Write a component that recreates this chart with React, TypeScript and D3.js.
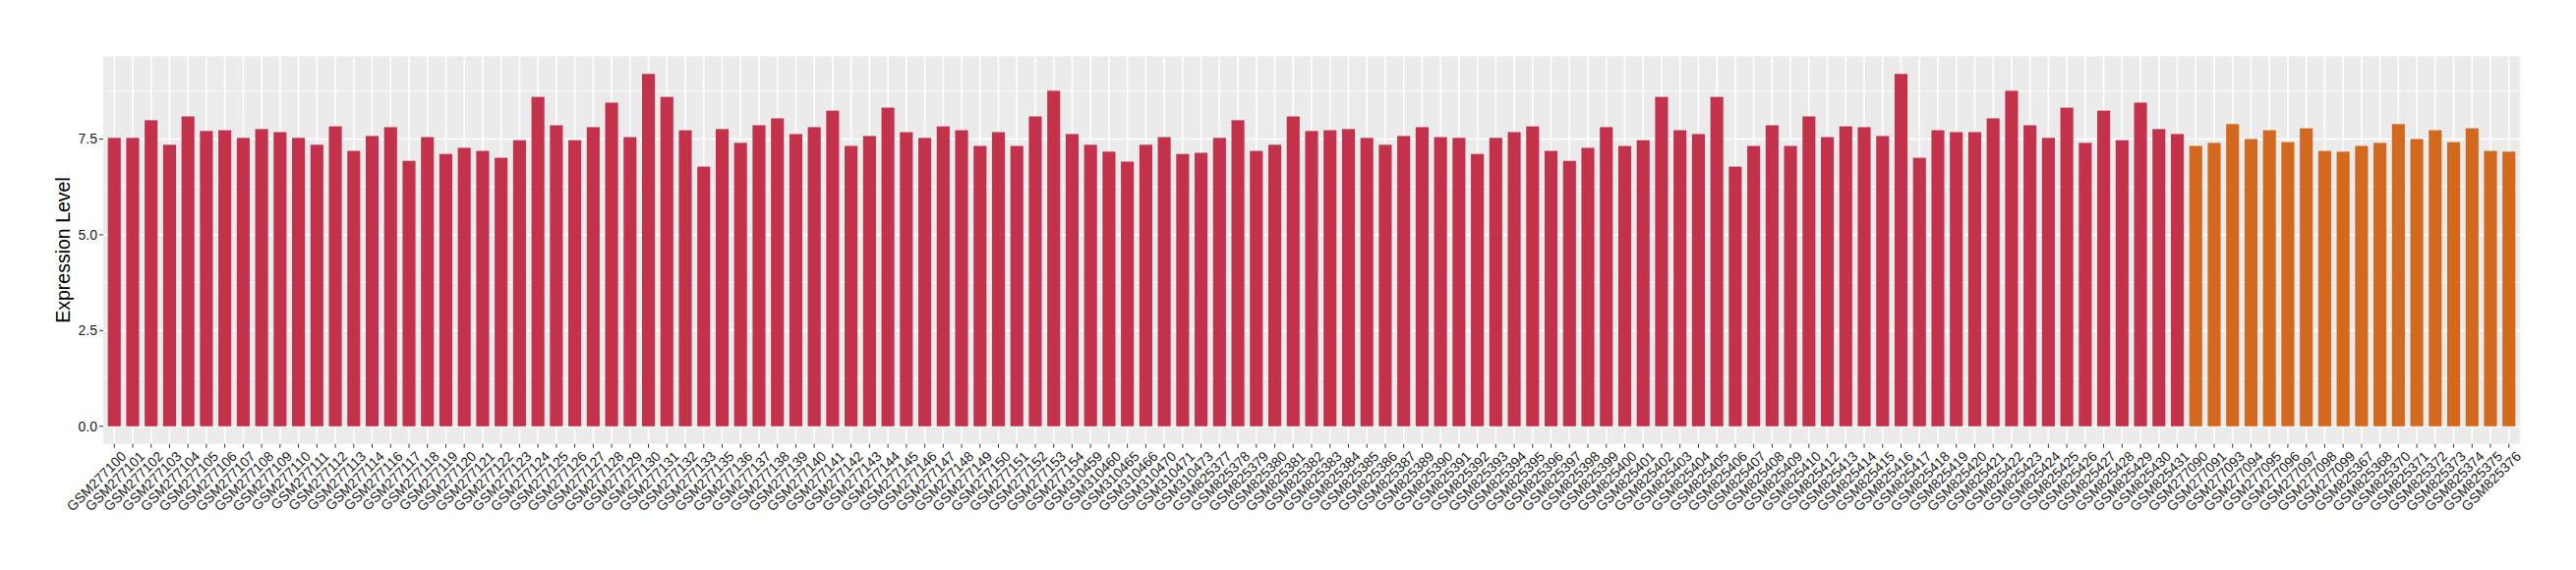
import React from "react";
import * as d3 from "d3";

// Group A (red bars)
const samplesA: string[] = [
  "GSM277100","GSM277101","GSM277102","GSM277103","GSM277104","GSM277105","GSM277106","GSM277107","GSM277108","GSM277109",
  "GSM277110","GSM277111","GSM277112","GSM277113","GSM277114","GSM277116","GSM277117","GSM277118","GSM277119","GSM277120",
  "GSM277121","GSM277122","GSM277123","GSM277124","GSM277125","GSM277126","GSM277127","GSM277128","GSM277129","GSM277130",
  "GSM277131","GSM277132","GSM277133","GSM277135","GSM277136","GSM277137","GSM277138","GSM277139","GSM277140","GSM277141",
  "GSM277142","GSM277143","GSM277144","GSM277145","GSM277146","GSM277147","GSM277148","GSM277149","GSM277150","GSM277151",
  "GSM277152","GSM277153","GSM277154","GSM310459","GSM310460","GSM310465","GSM310466","GSM310470","GSM310471","GSM310473",
  "GSM825377","GSM825378","GSM825379","GSM825380","GSM825381","GSM825382","GSM825383","GSM825384","GSM825385","GSM825386",
  "GSM825387","GSM825389","GSM825390","GSM825391","GSM825392","GSM825393","GSM825394","GSM825395","GSM825396","GSM825397",
  "GSM825398","GSM825399","GSM825400","GSM825401","GSM825402","GSM825403","GSM825404","GSM825405","GSM825406","GSM825407",
  "GSM825408","GSM825409","GSM825410","GSM825412","GSM825413","GSM825414","GSM825415","GSM825416","GSM825417","GSM825418",
  "GSM825419","GSM825420","GSM825421","GSM825422","GSM825423","GSM825424","GSM825425","GSM825426","GSM825427","GSM825428",
  "GSM825429","GSM825430","GSM825431",
];
const valuesA: number[] = [
  7.53, 7.53, 7.99, 7.35, 8.09, 7.71, 7.73, 7.53, 7.76, 7.68,
  7.53, 7.35, 7.83, 7.19, 7.58, 7.81, 6.93, 7.55, 7.11, 7.27,
  7.19, 7.01, 7.47, 8.60, 7.86, 7.47, 7.81, 8.45, 7.55, 9.20,
  8.60, 7.73, 6.78, 7.76, 7.40, 7.86, 8.04, 7.63, 7.81, 8.24,
  7.32, 7.58, 8.32, 7.68, 7.53, 7.83, 7.73, 7.32, 7.68, 7.32,
  8.09, 8.76, 7.63, 7.35, 7.17, 6.91, 7.35, 7.55, 7.11, 7.14,
  7.53, 7.99, 7.19, 7.35, 8.09, 7.71, 7.73, 7.76, 7.53, 7.35,
  7.58, 7.81, 7.55, 7.53, 7.11, 7.53, 7.68, 7.83, 7.19, 6.93,
  7.27, 7.81, 7.32, 7.47, 8.60, 7.73, 7.63, 8.60, 6.78, 7.32,
  7.86, 7.32, 8.09, 7.55, 7.83, 7.81, 7.58, 9.20, 7.01, 7.73,
  7.68, 7.68, 8.04, 8.76, 7.86, 7.53, 8.32, 7.40, 8.24, 7.47,
  8.45, 7.76, 7.63,
];

// Group B (orange bars)
const samplesB: string[] = [
  "GSM277090","GSM277091","GSM277093","GSM277094","GSM277095","GSM277096","GSM277097","GSM277098","GSM277099",
  "GSM825367","GSM825368","GSM825370","GSM825371","GSM825372","GSM825373","GSM825374","GSM825375","GSM825376",
];
const valuesB: number[] = [
  7.32, 7.40, 7.89, 7.50, 7.73, 7.42, 7.78, 7.19, 7.17,
  7.32, 7.40, 7.89, 7.50, 7.73, 7.42, 7.78, 7.19, 7.17,
];

const yTicks: number[] = [0, 2.5, 5, 7.5];
const yMinorTicks: number[] = [1.25, 3.75, 6.25, 8.75];
const yTitle = "Expression Level";

const colorA = "#C3314A";
const colorB = "#D2691E";

type Row = { name: string; value: number; group: "A" | "B" };

export default function App() {
  const W = 2620;
  const H = 580;
  const left = 105;
  const right = 2563;
  const top = 57.3;
  const bottom = 451.7;

  const rows: Row[] = [
    ...samplesA.map((n, i) => ({ name: n, value: valuesA[i], group: "A" as const })),
    ...samplesB.map((n, i) => ({ name: n, value: valuesB[i], group: "B" as const })),
  ];

  const x = d3
    .scaleBand<string>()
    .domain(rows.map((r) => r.name))
    .range([left, right])
    .paddingInner(0.3)
    .paddingOuter(0.25);

  const maxV = d3.max(rows, (r) => r.value) as number;
  const y = d3
    .scaleLinear()
    .domain([-0.05 * maxV, 1.05 * maxV])
    .range([bottom, top]);

  const font = "'Liberation Sans', Arial, Helvetica, sans-serif";

  return (
    <svg
      width={W}
      height={H}
      style={{ position: "absolute", left: 0, top: 0, background: "#fff" }}
      fontFamily={font}
    >
      <rect x={left} y={top} width={right - left} height={bottom - top} fill="#EBEBEB" />
      {yMinorTicks.map((t) => (
        <line key={"m" + t} x1={left} x2={right} y1={y(t)} y2={y(t)} stroke="#fff" strokeWidth={0.8} />
      ))}
      {yTicks.map((t) => (
        <line key={"g" + t} x1={left} x2={right} y1={y(t)} y2={y(t)} stroke="#fff" strokeWidth={1.6} />
      ))}
      {rows.map((r) => {
        const cx = (x(r.name) as number) + x.bandwidth() / 2;
        return <line key={"v" + r.name} x1={cx} x2={cx} y1={top} y2={bottom} stroke="#fff" strokeWidth={1.6} />;
      })}
      {rows.map((r) => (
        <rect
          key={"b" + r.name}
          x={x(r.name)}
          y={y(r.value)}
          width={x.bandwidth()}
          height={y(0) - y(r.value)}
          fill={r.group === "A" ? colorA : colorB}
        />
      ))}
      {yTicks.map((t) => (
        <g key={"yt" + t}>
          <line x1={left - 4} x2={left} y1={y(t)} y2={y(t)} stroke="#333" strokeWidth={1} />
          <text
            x={left - 6}
            y={y(t)}
            textAnchor="end"
            dominantBaseline="central"
            fontSize={14}
            fill="#1a1a1a"
          >
            {d3.format(".1f")(t)}
          </text>
        </g>
      ))}
      {rows.map((r) => {
        const cx = (x(r.name) as number) + x.bandwidth() / 2;
        return (
          <g key={"xt" + r.name}>
            <line x1={cx} x2={cx} y1={bottom} y2={bottom + 4} stroke="#333" strokeWidth={1} />
            <text
              transform={`translate(${cx + 6},${bottom + 6.5}) rotate(-45)`}
              textAnchor="end"
              dy="0.72em"
              fontSize={14}
              fill="#1a1a1a"
            >
              {r.name}
            </text>
          </g>
        );
      })}
      <text
        transform={`translate(71,${(top + bottom) / 2}) rotate(-90)`}
        textAnchor="middle"
        fontSize={19.5}
        fill="#000"
      >
        {yTitle}
      </text>
    </svg>
  );
}
